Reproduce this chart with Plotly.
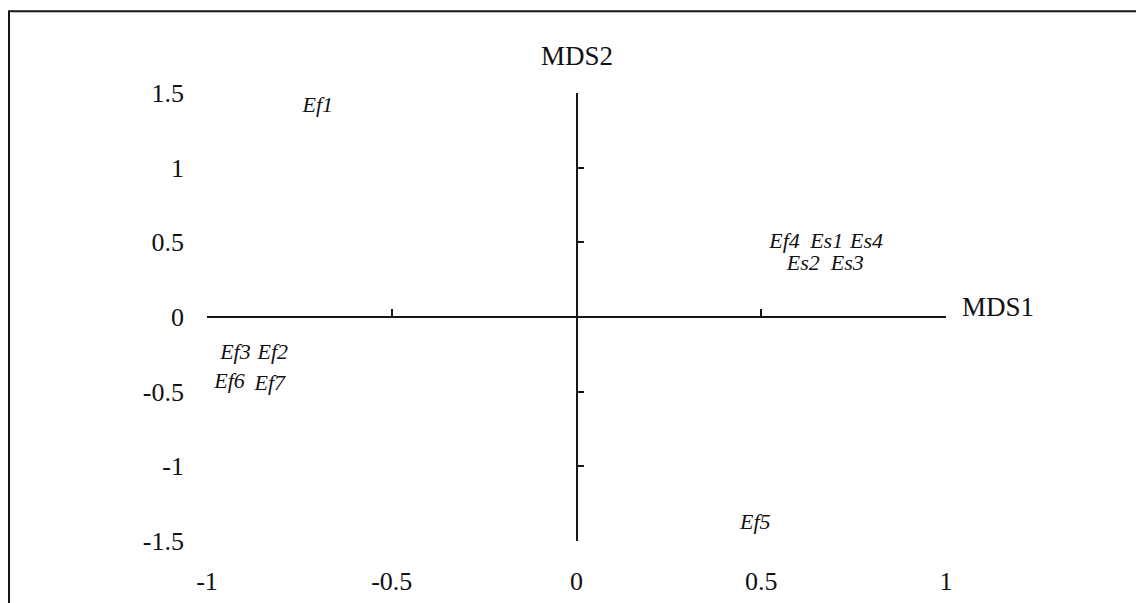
import plotly.graph_objects as go

# Data
labels = ["Ef1", "Ef4", "Es1", "Es4", "Es2", "Es3", "Ef3", "Ef2", "Ef6", "Ef7", "Ef5"]
mds1 = [-0.70, 0.563, 0.677, 0.785, 0.614, 0.733, -0.923, -0.822, -0.939, -0.830, 0.484]
mds2 = [1.41, 0.50, 0.50, 0.50, 0.35, 0.35, -0.245, -0.245, -0.44, -0.45, -1.38]

x_ticks = [-1, -0.5, 0, 0.5, 1]
x_ticktext = ["-1", "-0.5", "0", "0.5", "1"]
y_ticks = [1.5, 1, 0.5, 0, -0.5, -1, -1.5]
y_ticktext = ["1.5", "1", "0.5", "0", "-0.5", "-1", "-1.5"]

W, H = 1144, 603
OFF = 8  # page body margin
L, R, T, B = 207, 946, 92.7, 540.7  # plot area in page pixels
SERIF = "Liberation Serif, Times New Roman, serif"
INK = "#161616"

def px_x(p):
    return (p - L) / (R - L)

def px_y(p):
    return (B - p) / (B - T)

fig = go.Figure()
fig.add_trace(go.Scatter(
    x=mds1, y=mds2, mode="text",
    text=[f"<i>{t}</i>" for t in labels],
    textfont=dict(family=SERIF, size=22, color="#111"),
    hoverinfo="skip", showlegend=False,
))
# dummy trace for crosshair axes
fig.add_trace(go.Scatter(x=[None], y=[None], xaxis="x2", yaxis="y2",
                         mode="markers", showlegend=False, hoverinfo="skip"))

common = dict(showgrid=False, zeroline=False, showline=False)
fig.update_layout(
    width=W, height=H,
    margin=dict(l=L - OFF, r=W - R + OFF, t=T - OFF, b=H - B + OFF, pad=0),
    paper_bgcolor="white", plot_bgcolor="white",
    xaxis=dict(range=[-1, 1], tickvals=x_ticks, ticktext=x_ticktext, ticks="",
               tickfont=dict(family=SERIF, size=26, color="#111"),
               ticklabelstandoff=22, **common),
    yaxis=dict(range=[-1.5, 1.5], tickvals=y_ticks, ticktext=y_ticktext, ticks="",
               tickfont=dict(family=SERIF, size=26, color="#111"),
               ticklabelstandoff=22, **common),
    xaxis2=dict(range=[-1, 1], overlaying="x", anchor="free", position=0.5, side="bottom",
                showline=True, linecolor=INK, linewidth=1.8,
                ticks="inside", ticklen=7, tickwidth=1.5, tickcolor=INK,
                tickvals=[-1, -0.5, 0.5, 1], showticklabels=False,
                showgrid=False, zeroline=False),
    yaxis2=dict(range=[-1.5, 1.5], overlaying="y", anchor="free", position=0.5, side="left",
                showline=True, linecolor=INK, linewidth=1.8,
                ticks="inside", ticklen=7, tickwidth=1.5, tickcolor=INK,
                tickvals=[-1.5, -1, -0.5, 0.5, 1, 1.5], showticklabels=False,
                showgrid=False, zeroline=False),
)

fig.add_annotation(x=0, y=1.5, xref="x", yref="y", text="MDS2", showarrow=False,
                   xanchor="center", yanchor="bottom", yshift=20,
                   font=dict(family=SERIF, size=27, color="#111"))
fig.add_annotation(x=1, y=0, xref="x", yref="y", text="MDS1", showarrow=False,
                   xanchor="left", yanchor="middle", xshift=14, yshift=10,
                   font=dict(family=SERIF, size=27, color="#111"))

# frame (top and left edges)
fig.add_shape(type="line", xref="paper", yref="paper",
              x0=px_x(8), y0=px_y(11), x1=px_x(1150), y1=px_y(11),
              line=dict(color=INK, width=2))
fig.add_shape(type="line", xref="paper", yref="paper",
              x0=px_x(9), y0=px_y(11), x1=px_x(9), y1=px_y(610),
              line=dict(color=INK, width=2))

fig.write_html("out.html")
